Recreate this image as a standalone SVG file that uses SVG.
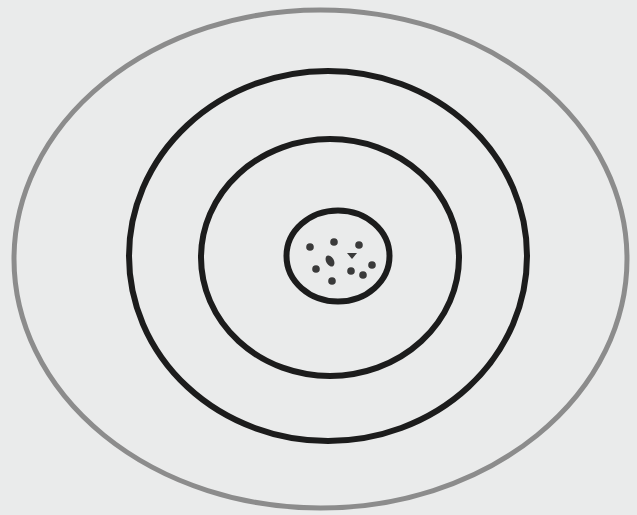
<svg xmlns="http://www.w3.org/2000/svg" width="637" height="515" viewBox="0 0 637 515">
<style>
.ring{fill:none;stroke:#1c1c1c;stroke-width:6}
.outer{fill:none;stroke:#8c8c8c;stroke-width:5}
.dot{fill:#3a3a3a}
</style>
<rect width="637" height="515" fill="#eaebeb"/>
<g id="outer-ring"><ellipse class="outer" cx="320.5" cy="259" rx="306.5" ry="249"/></g>
<g id="ring-2"><ellipse class="ring" cx="328" cy="256" rx="199" ry="185"/></g>
<g id="ring-3"><ellipse class="ring" cx="330" cy="257.5" rx="129" ry="118.5"/></g>
<g id="core">
<ellipse class="ring" cx="338" cy="256" rx="51.5" ry="45.5"/>
<circle class="dot" cx="310" cy="247" r="3.8"/>
<circle class="dot" cx="334" cy="242" r="3.8"/>
<circle class="dot" cx="359" cy="245" r="3.8"/>
<ellipse class="dot" cx="330" cy="261" rx="3.8" ry="6" transform="rotate(-30 330 261)"/>
<path class="dot" d="M347 253 L357 253 L352 259 Z"/>
<circle class="dot" cx="372" cy="265" r="3.8"/>
<circle class="dot" cx="316" cy="269" r="3.8"/>
<circle class="dot" cx="351" cy="271" r="3.8"/>
<circle class="dot" cx="363" cy="275" r="3.8"/>
<circle class="dot" cx="332" cy="281" r="3.8"/>
</g>
</svg>
